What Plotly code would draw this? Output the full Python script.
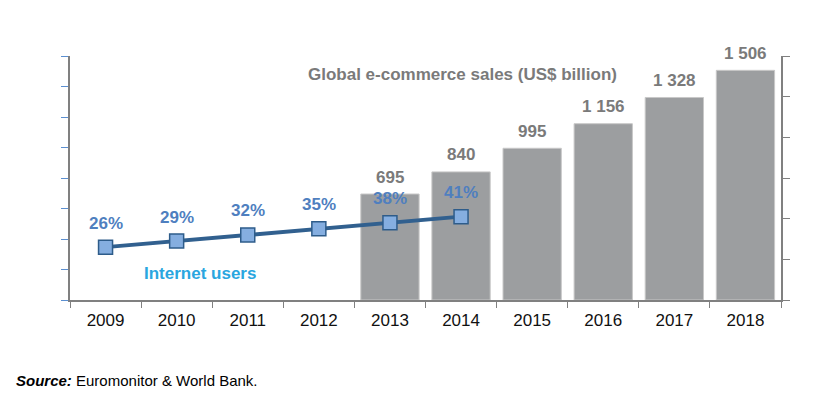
import plotly.graph_objects as go

years = ["2009", "2010", "2011", "2012", "2013", "2014", "2015", "2016", "2017", "2018"]
sales_years = ["2013", "2014", "2015", "2016", "2017", "2018"]
sales = [695, 840, 995, 1156, 1328, 1506]
users_years = ["2009", "2010", "2011", "2012", "2013", "2014"]
users = [0.26, 0.29, 0.32, 0.35, 0.38, 0.41]

FONT = "Liberation Sans, Arial, sans-serif"
BAR_COLOR = "#9c9ea0"
LINE_COLOR = "#31608f"
PCT_COLOR = "#4f7fbf"
GRAY_TXT = "#7a7a7a"

fig = go.Figure()

fig.add_trace(go.Bar(
    x=sales_years, y=sales, yaxis="y",
    marker=dict(color=BAR_COLOR, line=dict(color="#c8c8c8", width=1)),
    hoverinfo="skip", showlegend=False,
))

fig.add_trace(go.Scatter(
    x=users_years, y=users, yaxis="y2", mode="lines+markers",
    line=dict(color=LINE_COLOR, width=4),
    marker=dict(symbol="square", size=14, color="#85aee0",
                line=dict(color="#2e5c8a", width=1.5)),
    hoverinfo="skip", showlegend=False,
))

# page offset (browser body margin)
OFF = 8
W, H = 813 - 2 * OFF, 396 - 2 * OFF
L, R, T, B = 70 - OFF, 813 - 781 - OFF, 56 - OFF, 396 - 300 - OFF
pw, ph = W - L - R, H - T - B

def px_x(x):
    return (x - OFF - L) / pw

def px_y(y):
    return 1 - (y - OFF - T) / ph

annotations = []
for yr, v in zip(sales_years, sales):
    annotations.append(dict(
        x=years.index(yr), y=v, xref="x", yref="y", text=f"{v:,}".replace(",", " "),
        showarrow=False, yanchor="middle", yshift=17,
        font=dict(family=FONT, size=17, color=GRAY_TXT, weight="bold"),
    ))
for yr, v in zip(users_years, users):
    annotations.append(dict(
        x=years.index(yr), y=v, xref="x", yref="y2", text=f"{round(v*100)}%",
        showarrow=False, yanchor="middle", yshift=24,
        font=dict(family=FONT, size=17, color=PCT_COLOR, weight="bold"),
    ))
annotations.append(dict(
    x=px_x(462), y=px_y(74), xref="paper", yref="paper",
    text="Global e-commerce sales (US$ billion)",
    showarrow=False, xanchor="center", yanchor="middle",
    font=dict(family=FONT, size=17, color=GRAY_TXT, weight="bold"),
))
annotations.append(dict(
    x=px_x(200), y=px_y(273), xref="paper", yref="paper", text="Internet users",
    showarrow=False, xanchor="center", yanchor="middle",
    font=dict(family=FONT, size=17, color="#2aa6df", weight="bold"),
))
annotations.append(dict(
    x=px_x(14), y=px_y(380), xref="paper", yref="paper",
    text="<b><i>Source:</i></b> Euromonitor &amp; World Bank.",
    showarrow=False, xanchor="left", yanchor="middle",
    font=dict(family=FONT, size=15, color="#000000"),
))

fig.update_layout(
    width=W, height=H,
    margin=dict(l=L, r=R, t=T, b=B, pad=0),
    paper_bgcolor="white", plot_bgcolor="white",
    bargap=0.18,
    font=dict(family=FONT),
    xaxis=dict(
        type="category", categoryarray=years, categoryorder="array",
        range=[-0.5, 9.5],
        showline=True, linecolor="#808080", linewidth=1.5,
        ticks="outside", tickson="boundaries", ticklen=6, tickcolor="#808080",
        tickfont=dict(family=FONT, size=17, color="#111111"),
        ticklabelstandoff=4,
        showgrid=False, zeroline=False,
    ),
    yaxis=dict(
        side="right", range=[0, 1600], tickmode="linear", tick0=0, dtick=1600/6,
        showticklabels=False, showgrid=False, zeroline=False,
        showline=True, linecolor="#808080", linewidth=1.5,
        ticks="outside", ticklen=7, tickcolor="#808080",
    ),
    yaxis2=dict(
        side="left", overlaying="y", range=[0, 1.2], tickmode="linear", tick0=0, dtick=0.15,
        showticklabels=False, showgrid=False, zeroline=False,
        showline=True, linecolor="#808080", linewidth=1.5,
        ticks="outside", ticklen=7, tickcolor="#5b8fd0",
    ),
    annotations=annotations,
)

fig.write_html("out.html")
